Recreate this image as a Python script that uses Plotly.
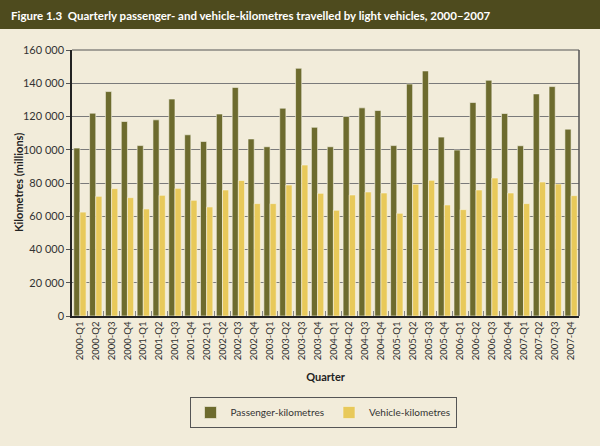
import plotly.graph_objects as go

quarters = [f"{y}-Q{q}" for y in range(2000, 2008) for q in range(1, 5)]
passenger_km = [101000, 122000, 135000, 117000, 102500, 118000, 130500, 109000,
                105000, 121500, 137500, 106500, 101800, 125000, 149000, 113500,
                101800, 120000, 125200, 123600, 102500, 139500, 147400, 107600,
                99800, 128400, 141800, 121800, 102400, 133600, 138000, 112400]
vehicle_km = [62500, 72000, 76600, 71200, 64400, 72600, 76800, 69600,
              65600, 75800, 81500, 67600, 67600, 78800, 90800, 73800,
              63600, 72800, 74600, 74000, 61800, 79200, 81600, 66800,
              64000, 75800, 83000, 74000, 67600, 80600, 79400, 72400]
series_names = ["Passenger-kilometres", "Vehicle-kilometres"]

BG = "#f2ecda"
fig = go.Figure()
fig.add_bar(x=quarters, y=passenger_km, name=series_names[0],
            marker=dict(color="#6d6b2e", line=dict(color="#f7f3e4", width=0.6)))
fig.add_bar(x=quarters, y=vehicle_km, name=series_names[1],
            marker=dict(color="#e8c95a", line=dict(color="#f7f3e4", width=0.6)))

L, R, T, B = 72, 21, 50, 130
W, H = 600, 446
pw, ph = W - L - R, H - T - B

def px_x(p):
    return (p - L) / pw

def px_y(p):
    return (H - B - p) / ph

fig.add_shape(type="rect", xref="paper", yref="paper",
              x0=px_x(0), x1=px_x(W), y0=px_y(29), y1=px_y(0),
              fillcolor="#4e4b1e", line=dict(width=0), layer="below")
fig.add_annotation(xref="paper", yref="paper", x=px_x(9), y=px_y(15),
                   xanchor="left", yanchor="middle", showarrow=False,
                   text="<b>Figure 1.3  Quarterly passenger- and vehicle-kilometres travelled by light vehicles, 2000–2007</b>",
                   font=dict(family="Lato", size=11.5, color="white"))
fig.add_annotation(xref="paper", yref="paper", x=px_x(18), y=px_y(183),
                   xanchor="center", yanchor="middle", showarrow=False, textangle=-90,
                   text="<b>Kilometres (millions)</b>",
                   font=dict(family="Lato", size=11, color="#222222"))

fig.update_layout(
    width=W, height=H,
    margin=dict(l=L, r=R, t=T, b=B),
    paper_bgcolor=BG, plot_bgcolor=BG,
    barmode="group", bargap=0.22, bargroupgap=0.0,
    separators=". ",
    font=dict(family="Lato", color="#333333", size=11),
    showlegend=True,
    legend=dict(orientation="h", x=px_x(323), y=px_y(397), xanchor="center", yanchor="top",
                bordercolor="#555555", borderwidth=1, bgcolor=BG,
                itemwidth=30, tracegroupgap=0,
                font=dict(size=10, color="#333333")),
)
fig.update_xaxes(type="category", tickangle=-90, tickfont=dict(size=9.5),
                 showline=True, linecolor="#222222", linewidth=1.5, mirror=False,
                 ticks="inside", tickson="boundaries", ticklen=5, tickcolor="#888888",
                 showgrid=False,
                 title=dict(text="<b>Quarter</b>", font=dict(size=11, color="#222222"), standoff=14))
fig.update_yaxes(range=[0, 160000], dtick=20000, tickformat=",d",
                 showline=True, linecolor="#222222", linewidth=1.5,
                 ticks="outside", ticklen=4, tickcolor="#555555",
                 showgrid=True, gridcolor="#7a7a7a", gridwidth=1, zeroline=False,
                 tickfont=dict(size=11))
# right and top frame
fig.add_shape(type="line", xref="paper", yref="paper", x0=1, x1=1, y0=0, y1=1,
              line=dict(color="#555555", width=1.5))
fig.add_shape(type="line", xref="paper", yref="paper", x0=0, x1=1, y0=1, y1=1,
              line=dict(color="#555555", width=1))

fig.write_html("out.html")
